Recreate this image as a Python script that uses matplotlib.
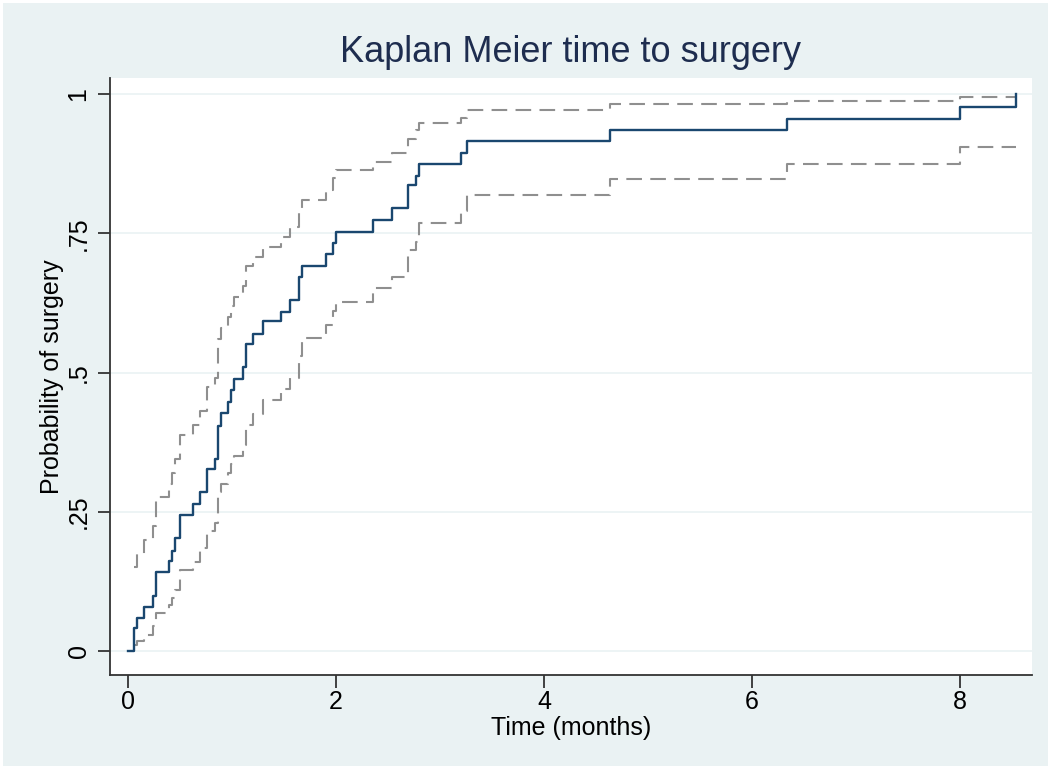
import matplotlib
matplotlib.use("Agg")
import matplotlib.pyplot as plt
from matplotlib.patches import Rectangle

# ---- data ----
time = [0.06, 0.09, 0.157, 0.237, 0.266, 0.394, 0.426, 0.455, 0.5, 0.628,
        0.692, 0.757, 0.837, 0.868, 0.894, 0.959, 0.99, 1.022, 1.103, 1.132,
        1.199, 1.295, 1.468, 1.558, 1.644, 1.67, 1.904, 1.968, 2.0, 2.359,
        2.535, 2.689, 2.769, 2.798, 3.199, 3.263, 4.635, 6.333, 8.0, 8.538]
failure = [0.041, 0.060, 0.079, 0.099, 0.141, 0.162, 0.180, 0.202, 0.244, 0.264,
           0.285, 0.327, 0.344, 0.404, 0.427, 0.447, 0.468, 0.488, 0.509, 0.551,
           0.570, 0.592, 0.609, 0.630, 0.671, 0.691, 0.713, 0.733, 0.753, 0.774,
           0.795, 0.836, 0.853, 0.874, 0.894, 0.916, 0.935, 0.956, 0.976, 1.0]
upper = [0.15, 0.175, 0.20, 0.225, 0.277, 0.30, 0.32, 0.345, 0.388, 0.405,
         0.43, 0.474, 0.49, 0.56, 0.58, 0.60, 0.62, 0.636, 0.655, 0.691,
         0.707, 0.725, 0.743, 0.761, 0.795, 0.81, 0.828, 0.85, 0.864, 0.878,
         0.894, 0.92, 0.935, 0.948, 0.957, 0.971, 0.982, 0.988, 0.995]
lower = [0.011, 0.018, 0.028, 0.045, 0.068, 0.082, 0.095, 0.11, 0.145, 0.16,
         0.185, 0.215, 0.23, 0.285, 0.30, 0.32, 0.335, 0.35, 0.37, 0.405,
         0.425, 0.45, 0.47, 0.49, 0.53, 0.562, 0.585, 0.61, 0.627, 0.652,
         0.672, 0.72, 0.735, 0.768, 0.79, 0.818, 0.847, 0.874, 0.904]
xticks = [0, 2, 4, 6, 8]
yticks = [0, 0.25, 0.5, 0.75, 1]
ytick_labels = ["0", ".25", ".5", ".75", "1"]
title = "Kaplan Meier time to surgery"
xlabel = "Time (months)"
ylabel = "Probability of surgery"

# ---- styling ----
plt.rcParams['font.family'] = ['Liberation Sans', 'DejaVu Sans']
BG = "#EAF2F3"
NAVY = "#1a476f"
GRAY = "#8f8f8f"

W, H = 1051, 769
fig = plt.figure(figsize=(W / 100, H / 100), dpi=100, facecolor="white")
fig.patches.append(Rectangle((3 / W, 3 / H), 1 - 6 / W, 1 - 6 / H,
                             transform=fig.transFigure, facecolor=BG,
                             edgecolor="none", zorder=-10))

L, R, T, B = 110, 1032, 78, 675
ax = fig.add_axes([L / W, 1 - B / H, (R - L) / W, (B - T) / H])
ax.set_facecolor("white")

# x: 0 at px 128, 104 px per month; y: 0 at px 651, 557 px per unit
x0 = (L - 128) / 104
x1 = (R - 128) / 104
y0 = -(B - 651) / 557
y1 = (651 - T) / 557
ax.set_xlim(x0, x1)
ax.set_ylim(y0, y1)

for yv in yticks:
    ax.axhline(yv, color=BG, lw=1.2, zorder=0)

t_end = time[-1]
ci_t = time[:-1] + [t_end]
ax.step(ci_t, upper + [upper[-1]], where="post", color=GRAY, lw=1.5,
        linestyle=(0, (7.5, 4.0)), zorder=2)
ax.step(ci_t, lower + [lower[-1]], where="post", color=GRAY, lw=1.5,
        linestyle=(0, (7.5, 4.0)), zorder=2)
ax.step([0] + time, [0] + failure, where="post", color=NAVY, lw=1.7, zorder=3)

for s in ["top", "right"]:
    ax.spines[s].set_visible(False)
for s in ["left", "bottom"]:
    ax.spines[s].set_color("#333333")
    ax.spines[s].set_linewidth(1.3)

ax.set_xticks(xticks)
ax.set_xticklabels([str(v) for v in xticks], fontsize=18)
ax.set_yticks(yticks)
ax.set_yticklabels(ytick_labels, fontsize=18, rotation=90, va="center")
ax.tick_params(axis="both", direction="out", length=9, width=1.3,
               color="#333333", labelcolor="black")
ax.tick_params(axis="x", pad=2)
ax.tick_params(axis="y", pad=5)

ax.set_xlabel(xlabel, fontsize=18, labelpad=1)
ax.set_ylabel(ylabel, fontsize=18, labelpad=2)
fig.text(571 / W, 1 - 53 / H, title, fontsize=26, color="#1e2d4f",
         ha="center", va="center")

fig.savefig("out.png", dpi=100, facecolor=fig.get_facecolor())
